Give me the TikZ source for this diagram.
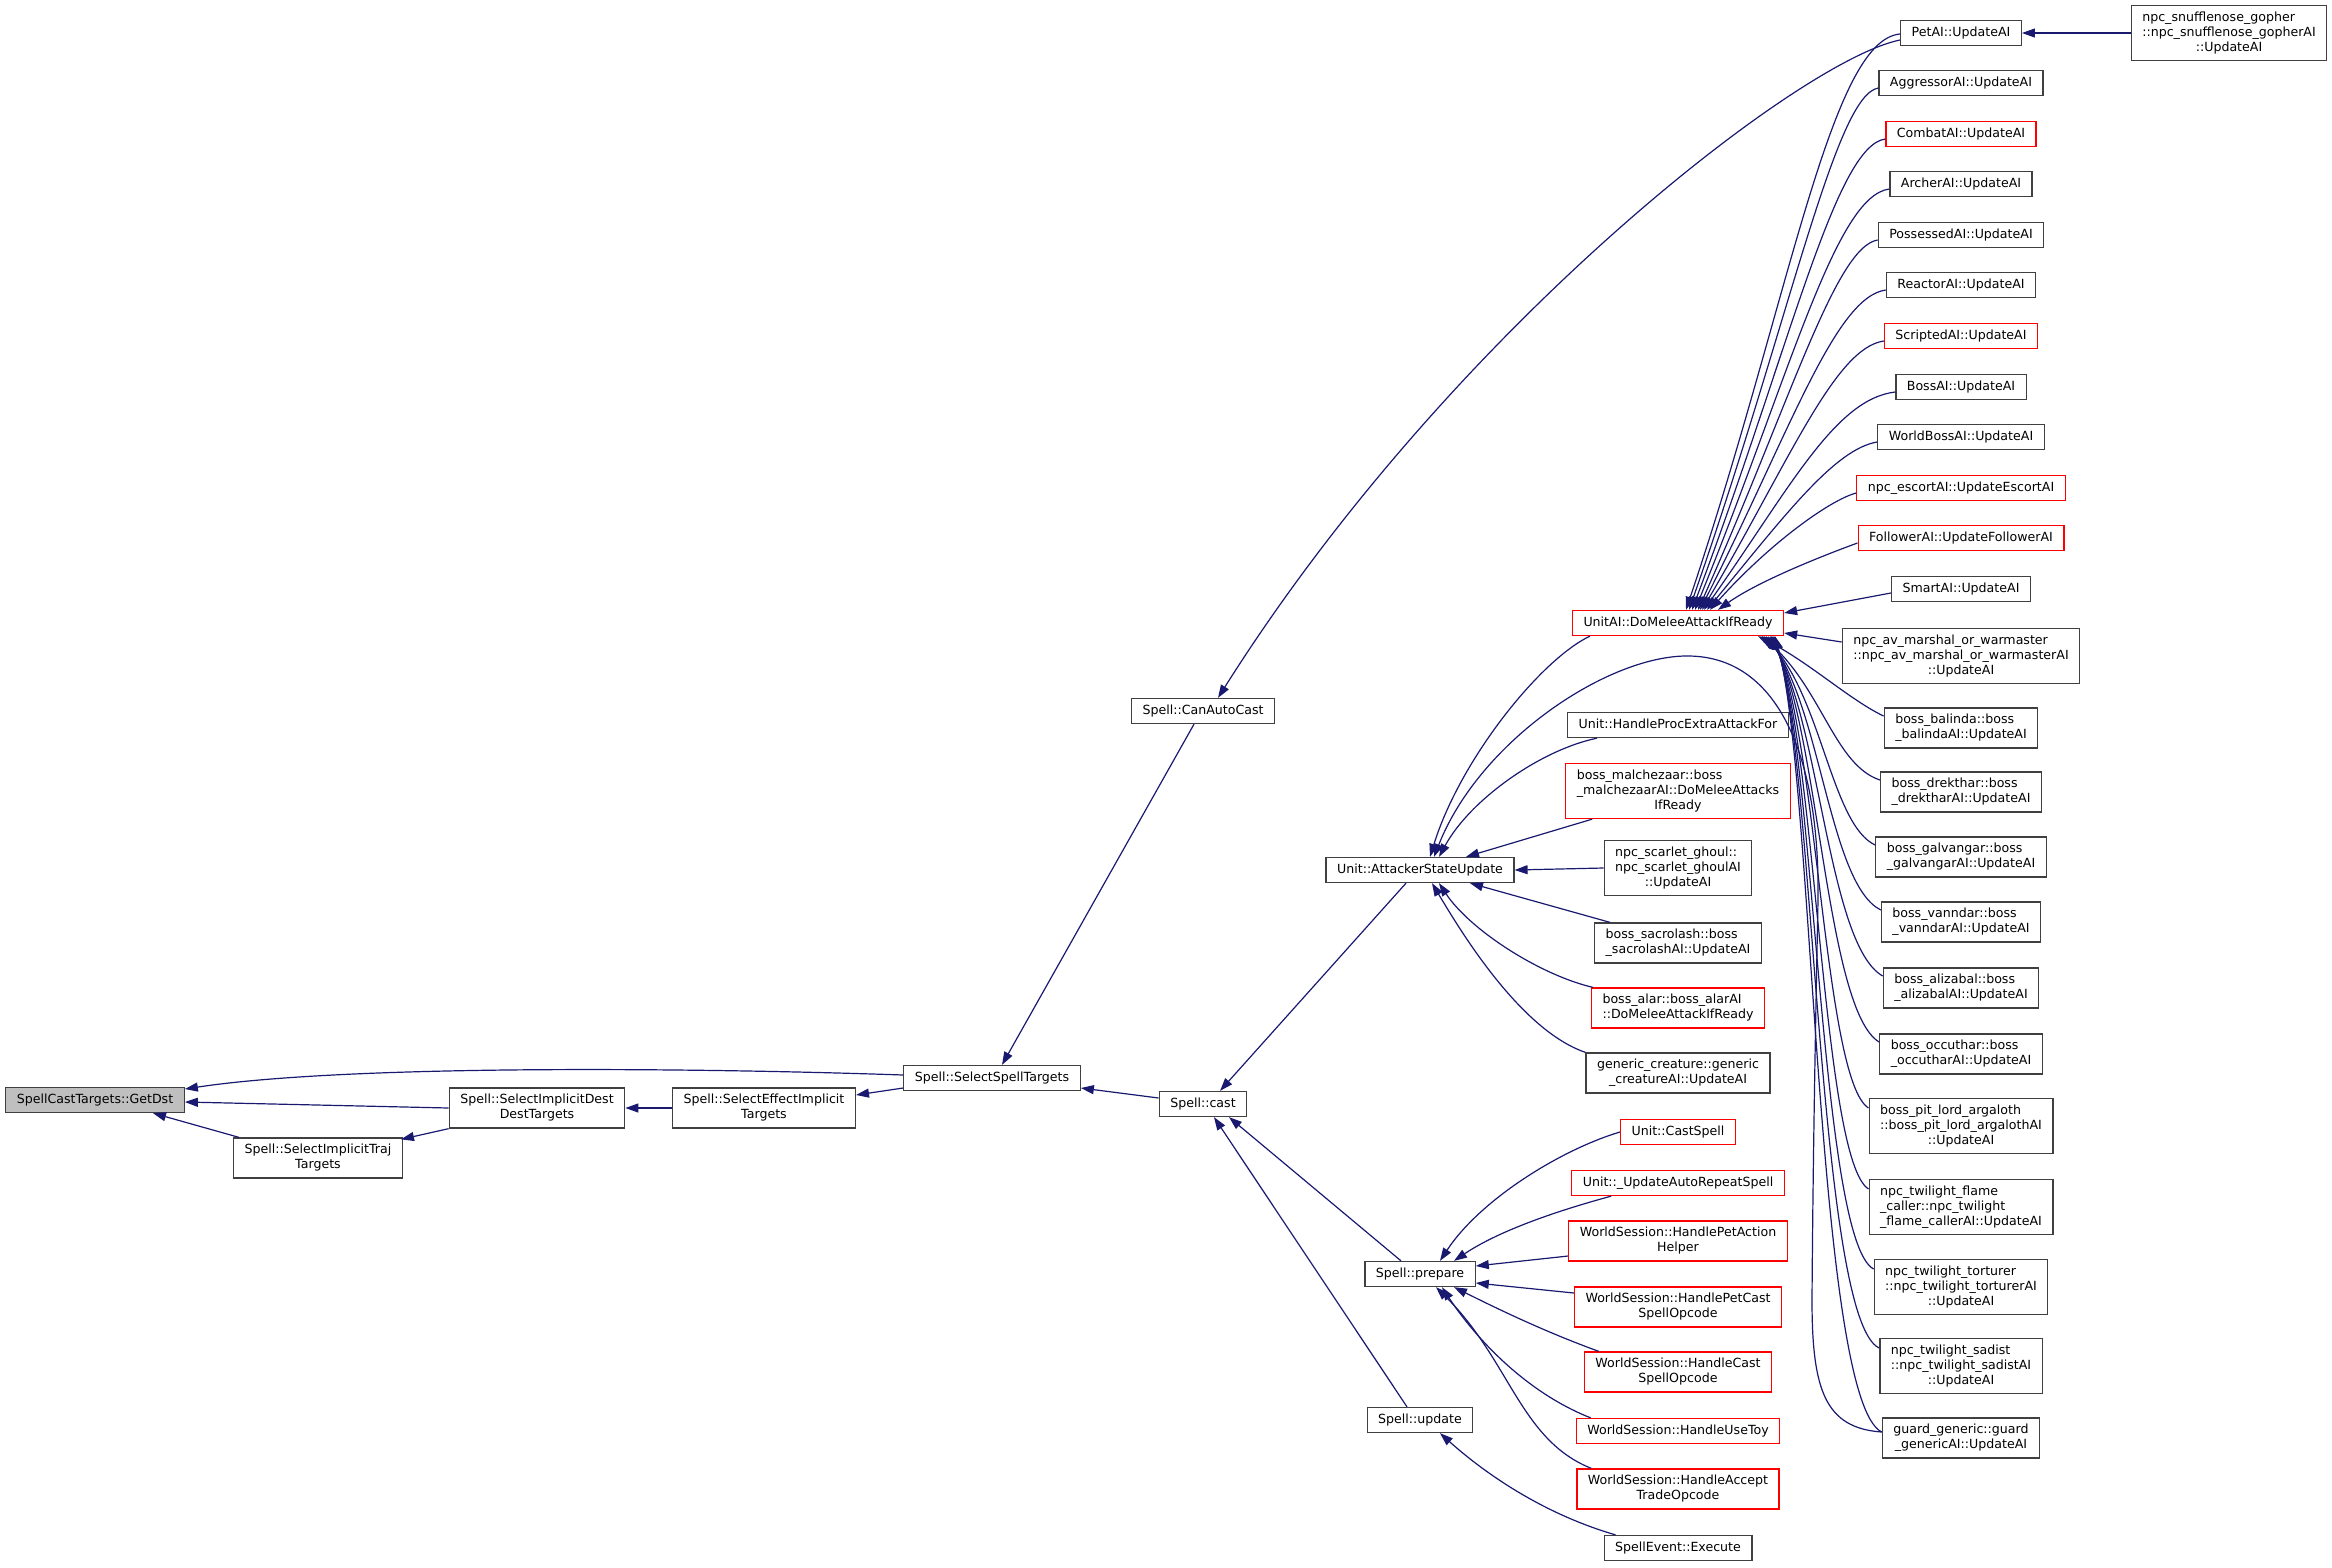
\documentclass[tikz,border=0pt]{standalone}
\usepackage{fontspec}
\setmainfont{DejaVu Sans}
\usetikzlibrary{arrows.meta}
\definecolor{edgeblue}{HTML}{191970}
\definecolor{boxgray}{HTML}{404040}
\definecolor{boxred}{HTML}{FF0000}
\definecolor{curgray}{HTML}{BFBFBF}
% label lines: all left but the last, which is centred
\newcommand{\lii}[2]{\begin{tabular}{@{}l@{}}#1\\\multicolumn{1}{@{}c@{}}{#2}\end{tabular}}
\newcommand{\liii}[3]{\begin{tabular}{@{}l@{}}#1\\#2\\\multicolumn{1}{@{}c@{}}{#3}\end{tabular}}
\begin{document}
\begin{tikzpicture}[x=1pt,y=-1pt,
  fn/.style={draw=boxgray,line width=1.3pt,fill=white,inner xsep=11pt,inner ysep=5pt,font=\fontsize{12.6}{15}\selectfont,execute at begin node=\strut},
  fnred/.style={fn,draw=boxred},
  call/.style={draw=edgeblue,line width=1.2pt,-{Triangle[length=13pt,width=9pt]}}]
\useasboundingbox (0,0) rectangle (2332,1567);
% callee chain on the left
\node[fn,fill=curgray] (getdst) at (95,1100) {SpellCastTargets::GetDst};
\node[fn] (destdest) at (537,1108) {\lii{Spell::SelectImplicitDest}{DestTargets}};
\node[fn] (traj) at (318,1158) {\lii{Spell::SelectImplicitTraj}{Targets}};
\node[fn] (effimp) at (764,1108) {\lii{Spell::SelectEffectImplicit}{Targets}};
\node[fn] (sst) at (992,1078) {Spell::SelectSpellTargets};
\node[fn] (canauto) at (1203,711) {Spell::CanAutoCast};
\node[fn] (cast) at (1203,1104) {Spell::cast};
\node[fn] (asu) at (1420,870) {Unit::AttackerStateUpdate};
\node[fn] (prepare) at (1420,1274) {Spell::prepare};
\node[fn] (update) at (1420,1420) {Spell::update};
% middle column
\node[fnred] (domelee) at (1678,623) {UnitAI::DoMeleeAttackIfReady};
\node[fn] (procextra) at (1678,725) {Unit::HandleProcExtraAttackFor};
\node[fnred] (malchez) at (1678,791) {\liii{boss\_malchezaar::boss}{\_malchezaarAI::DoMeleeAttacks}{IfReady}};
\node[fn] (ghoul) at (1678,868) {\liii{npc\_scarlet\_ghoul::}{npc\_scarlet\_ghoulAI}{::UpdateAI}};
\node[fn] (sacro) at (1678,943) {\lii{boss\_sacrolash::boss}{\_sacrolashAI::UpdateAI}};
\node[fnred] (alar) at (1678,1008) {\lii{boss\_alar::boss\_alarAI}{::DoMeleeAttackIfReady}};
\node[fn] (generic) at (1678,1073) {\lii{generic\_creature::generic}{\_creatureAI::UpdateAI}};
\node[fnred] (castspell) at (1678,1132) {Unit::CastSpell};
\node[fnred] (autorep) at (1678,1183) {Unit::\_UpdateAutoRepeatSpell};
\node[fnred] (petaction) at (1678,1241) {\lii{WorldSession::HandlePetAction}{Helper}};
\node[fnred] (petcast) at (1678,1307) {\lii{WorldSession::HandlePetCast}{SpellOpcode}};
\node[fnred] (castop) at (1678,1372) {\lii{WorldSession::HandleCast}{SpellOpcode}};
\node[fnred] (usetoy) at (1678,1431) {WorldSession::HandleUseToy};
\node[fnred] (accept) at (1678,1489) {\lii{WorldSession::HandleAccept}{TradeOpcode}};
\node[fn] (execute) at (1678,1548) {SpellEvent::Execute};
% right column
\node[fn] (petai) at (1961,33) {PetAI::UpdateAI};
\node[fn] (aggr) at (1961,83) {AggressorAI::UpdateAI};
\node[fnred] (combat) at (1961,134) {CombatAI::UpdateAI};
\node[fn] (archer) at (1961,184) {ArcherAI::UpdateAI};
\node[fn] (possessed) at (1961,235) {PossessedAI::UpdateAI};
\node[fn] (reactor) at (1961,285) {ReactorAI::UpdateAI};
\node[fnred] (scripted) at (1961,336) {ScriptedAI::UpdateAI};
\node[fn] (bossai) at (1961,387) {BossAI::UpdateAI};
\node[fn] (worldboss) at (1961,437) {WorldBossAI::UpdateAI};
\node[fnred] (escort) at (1961,488) {npc\_escortAI::UpdateEscortAI};
\node[fnred] (follower) at (1961,538) {FollowerAI::UpdateFollowerAI};
\node[fn] (smartai) at (1961,589) {SmartAI::UpdateAI};
\node[fn] (marshal) at (1961,656) {\liii{npc\_av\_marshal\_or\_warmaster}{::npc\_av\_marshal\_or\_warmasterAI}{::UpdateAI}};
\node[fn] (balinda) at (1961,728) {\lii{boss\_balinda::boss}{\_balindaAI::UpdateAI}};
\node[fn] (drekthar) at (1961,792) {\lii{boss\_drekthar::boss}{\_drektharAI::UpdateAI}};
\node[fn] (galvangar) at (1961,857) {\lii{boss\_galvangar::boss}{\_galvangarAI::UpdateAI}};
\node[fn] (vanndar) at (1961,922) {\lii{boss\_vanndar::boss}{\_vanndarAI::UpdateAI}};
\node[fn] (alizabal) at (1961,988) {\lii{boss\_alizabal::boss}{\_alizabalAI::UpdateAI}};
\node[fn] (occuthar) at (1961,1054) {\lii{boss\_occuthar::boss}{\_occutharAI::UpdateAI}};
\node[fn] (pitlord) at (1961,1126) {\liii{boss\_pit\_lord\_argaloth}{::boss\_pit\_lord\_argalothAI}{::UpdateAI}};
\node[fn] (flame) at (1961,1207) {\liii{npc\_twilight\_flame}{\_caller::npc\_twilight}{\_flame\_callerAI::UpdateAI}};
\node[fn] (torturer) at (1961,1287) {\liii{npc\_twilight\_torturer}{::npc\_twilight\_torturerAI}{::UpdateAI}};
\node[fn] (sadist) at (1961,1366) {\liii{npc\_twilight\_sadist}{::npc\_twilight\_sadistAI}{::UpdateAI}};
\node[fn] (guard) at (1961,1438) {\lii{guard\_generic::guard}{\_genericAI::UpdateAI}};
\node[fn] (gopher) at (2229,33) {\liii{npc\_snufflenose\_gopher}{::npc\_snufflenose\_gopherAI}{::UpdateAI}};
% calls, arrow at the callee
\draw[call] ([yshift=3pt]sst.west) .. controls (700,1068) and (350,1064) .. ([yshift=11pt]getdst.east);
\draw[call] (destdest.west) -- ([yshift=-2pt]getdst.east);
\draw[call] ([xshift=6pt]traj.north west) -- ([xshift=58pt]getdst.south);
\draw[call] (destdest.south west) -- ([xshift=-2pt,yshift=-2pt]traj.north east);
\draw[call] (effimp.west) -- (destdest.east);
\draw[call] ([yshift=-10pt]sst.west) -- ([yshift=13pt]effimp.east);
\draw[call] ([xshift=-9pt]canauto.south) -- ([xshift=10pt]sst.north);
\draw[call] ([yshift=6pt]cast.west) -- ([yshift=-10pt]sst.east);
\draw[call] ([yshift=-7pt]petai.west) .. controls (1800,60) and (1450,330) .. ([xshift=15pt]canauto.north);
\draw[call] ([xshift=-14pt]asu.south) -- ([xshift=17pt]cast.north);
\draw[call] ([xshift=-19pt]prepare.north) -- ([xshift=26pt]cast.south);
\draw[call] ([xshift=-13pt]update.north) -- ([xshift=11pt]cast.south);
\draw[call] (gopher.west) -- (petai.east);
% into Unit::AttackerStateUpdate
\draw[call] ([xshift=18pt]domelee.south west) .. controls (1540,660) and (1460,760) .. ([xshift=10pt]asu.north);
\draw[call] ([xshift=30pt]procextra.south west) .. controls (1540,750) and (1470,800) .. ([xshift=19pt]asu.north);
\draw[call] ([xshift=27pt]malchez.south west) -- ([xshift=46pt]asu.north);
\draw[call] (ghoul.west) -- (asu.east);
\draw[call] ([xshift=16pt]sacro.north west) -- ([xshift=50pt]asu.south);
\draw[call] ([xshift=2pt]alar.north west) .. controls (1540,975) and (1470,930) .. ([xshift=19pt]asu.south);
\draw[call] (generic.north west) .. controls (1520,1030) and (1460,930) .. ([xshift=12pt]asu.south);
\draw[call] ([yshift=6pt]guard.west) .. controls (1825,1428) and (1812,1390) .. (1812,1300) .. controls (1813,1150) and (1816,1000) .. (1818,900) .. controls (1820,760) and (1780,658) .. (1690,656) .. controls (1610,654) and (1480,740) .. ([xshift=14pt]asu.north);
% into Spell::prepare and Spell::update
\draw[call] (castspell.west) .. controls (1560,1150) and (1480,1200) .. ([xshift=20pt]prepare.north);
\draw[call] ([xshift=40pt]autorep.south west) .. controls (1560,1210) and (1500,1230) .. ([xshift=34pt]prepare.north);
\draw[call] ([yshift=-15pt]petaction.west) -- ([yshift=8pt]prepare.east);
\draw[call] ([yshift=14pt]petcast.west) -- ([yshift=-9pt]prepare.east);
\draw[call] ([xshift=15pt]castop.north west) .. controls (1540,1330) and (1490,1305) .. ([xshift=34pt]prepare.south);
\draw[call] ([xshift=15pt]usetoy.north west) .. controls (1520,1390) and (1470,1330) .. ([xshift=22pt]prepare.south);
\draw[call] ([xshift=15pt]accept.north west) .. controls (1520,1440) and (1510,1360) .. ([xshift=16pt]prepare.south);
\draw[call] ([xshift=12pt]execute.north west) .. controls (1530,1510) and (1470,1460) .. ([xshift=20pt]update.south);
% into UnitAI::DoMeleeAttackIfReady from above
\draw[call] ([yshift=-1pt]petai.west) .. controls (1830,40) and (1790,300) .. ([xshift=8pt]domelee.north);
\draw[call] ([yshift=-5pt]aggr.west) .. controls (1835,95) and (1790,321) .. ([xshift=11pt]domelee.north);
\draw[call] ([yshift=-5pt]combat.west) .. controls (1835,146) and (1790,349) .. ([xshift=14pt]domelee.north);
\draw[call] ([yshift=-5pt]archer.west) .. controls (1835,196) and (1790,376) .. ([xshift=17pt]domelee.north);
\draw[call] ([yshift=-5pt]possessed.west) .. controls (1835,247) and (1790,404) .. ([xshift=20pt]domelee.north);
\draw[call] ([yshift=-5pt]reactor.west) .. controls (1835,297) and (1790,432) .. ([xshift=22pt]domelee.north);
\draw[call] ([yshift=-5pt]scripted.west) .. controls (1835,348) and (1790,460) .. ([xshift=24pt]domelee.north);
\draw[call] ([yshift=-5pt]bossai.west) .. controls (1835,399) and (1790,488) .. ([xshift=26pt]domelee.north);
\draw[call] ([yshift=-5pt]worldboss.west) .. controls (1835,449) and (1785,515) .. ([xshift=29pt]domelee.north);
\draw[call] ([yshift=-5pt]escort.west) .. controls (1830,500) and (1770,543) .. ([xshift=32pt]domelee.north);
\draw[call] ([yshift=-5pt]follower.west) .. controls (1830,553) and (1760,580) .. ([xshift=40pt]domelee.north);
\draw[call] ([yshift=-4pt]smartai.west) -- ([yshift=10pt]domelee.east);
% into UnitAI::DoMeleeAttackIfReady from below
\draw[call] ([yshift=14pt]marshal.west) -- ([yshift=-10pt]domelee.east);
\draw[call] ([yshift=12pt]balinda.west) .. controls (1850,700) and (1810,663) .. ([xshift=80pt]domelee.south);
\draw[call] ([yshift=12pt]drekthar.west) .. controls (1835,765) and (1822,690) .. ([xshift=84pt]domelee.south);
\draw[call] ([yshift=12pt]galvangar.west) .. controls (1832,825) and (1822,700) .. ([xshift=86pt]domelee.south);
\draw[call] ([yshift=12pt]vanndar.west) .. controls (1830,885) and (1821,710) .. ([xshift=88pt]domelee.south);
\draw[call] ([yshift=12pt]alizabal.west) .. controls (1828,945) and (1820,720) .. ([xshift=90pt]domelee.south);
\draw[call] ([yshift=12pt]occuthar.west) .. controls (1826,1010) and (1819,730) .. ([xshift=92pt]domelee.south);
\draw[call] ([yshift=18pt]pitlord.west) .. controls (1824,1080) and (1818,740) .. ([xshift=93pt]domelee.south);
\draw[call] ([yshift=18pt]flame.west) .. controls (1822,1160) and (1817,750) .. ([xshift=94pt]domelee.south);
\draw[call] ([yshift=18pt]torturer.west) .. controls (1820,1240) and (1816,760) .. ([xshift=95pt]domelee.south);
\draw[call] ([yshift=18pt]sadist.west) .. controls (1818,1320) and (1815,770) .. ([xshift=96pt]domelee.south);
\draw[call] ([yshift=6pt]guard.west) .. controls (1816,1400) and (1814,780) .. ([xshift=97pt]domelee.south);
\end{tikzpicture}
\end{document}
